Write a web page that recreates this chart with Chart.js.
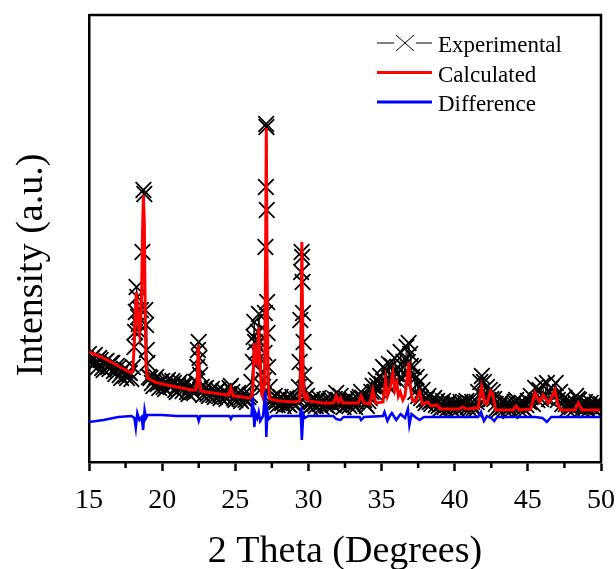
<!DOCTYPE html>
<html>
<head>
<meta charset="utf-8">
<script src="https://cdn.jsdelivr.net/npm/chart.js@4.4.1/dist/chart.umd.min.js"></script>
<style>
  body { margin: 0; background: #fff; }
  #wrap { width: 616px; height: 569px; }
</style>
</head>
<body>
<div id="wrap"><canvas id="xrdChart" width="616" height="569"></canvas></div>
<script>
// XRD refinement: observed / calculated / difference, [2theta, intensity]
const expData = [
  [15.0,108],[15.1,99],[15.2,104],[15.3,97],[15.4,107],[15.5,101],[15.6,95],[15.7,104],[15.8,102],[15.9,94],
  [16.0,92],[16.1,100],[16.2,101],[16.3,95],[16.4,93],[16.5,99],[16.6,99],[16.7,91],[16.8,88],[16.9,96],
  [17.0,94],[17.1,87],[17.2,84],[17.3,91],[17.4,93],[17.5,86],[17.6,84],[17.7,90],[17.8,89],[17.9,83],
  [18.0,95],[18.1,115],[18.15,130],[18.2,150],[18.25,175],[18.3,165],[18.35,145],[18.4,138],[18.45,130],
  [18.55,152],[18.65,210],[18.72,272],[18.78,268],[18.85,152],[18.9,137],[18.95,112],[19.0,99],[19.1,85],
  [19.2,84],[19.3,79],[19.4,76],[19.5,83],[19.6,85],[19.7,78],[19.8,74],[19.9,80],[20.0,81],[20.1,75],
  [20.2,73],[20.3,80],[20.4,82],[20.5,76],[20.6,75],[20.7,81],[20.8,79],[20.9,72],[21.0,70],[21.1,77],
  [21.2,80],[21.3,74],[21.4,71],[21.5,78],[21.6,77],[21.7,70],[21.8,68],[21.9,75],[22.0,76],[22.1,70],
  [22.2,69],
  [22.3,80],[22.4,95],[22.45,112],[22.5,120],[22.55,104],[22.6,87],[22.7,75],
  [22.8,67],[22.9,73],[23.0,74],[23.1,68],[23.2,66],[23.3,71],[23.4,73],[23.5,67],[23.6,65],[23.7,70],
  [23.8,72],[23.9,66],[24.0,64],[24.1,69],[24.2,71],[24.3,65],[24.4,63],[24.5,68],[24.6,74],[24.7,76],
  [24.8,70],[24.9,64],[25.0,62],[25.1,67],[25.2,69],[25.3,63],[25.4,61],[25.5,66],[25.6,68],[25.7,62],
  [25.8,60],[25.9,65],[26.0,67],
  [26.1,80],[26.2,100],[26.25,125],[26.3,140],[26.35,120],[26.45,110],[26.55,130],[26.62,148],[26.7,120],
  [26.8,90],[26.9,75],[26.95,82],[27.0,109],[27.03,149],[27.06,215],[27.09,275],[27.11,338],[27.13,335],
  [27.15,252],[27.18,160],[27.21,129],[27.25,95],[27.35,75],
  [27.45,63],[27.5,58],[27.6,63],[27.7,66],[27.8,60],[27.9,57],[28.0,62],[28.1,65],[28.2,59],[28.3,56],
  [28.4,61],[28.5,64],[28.6,58],[28.7,57],[28.8,62],[28.9,65],[29.0,59],[29.1,56],[29.2,61],[29.25,63],
  [29.35,75],[29.4,100],[29.45,142],[29.5,190],[29.53,210],[29.57,205],[29.6,180],[29.63,149],[29.67,120],
  [29.7,87],[29.8,72],
  [29.9,66],[30.0,60],[30.1,55],[30.2,60],[30.3,63],[30.4,58],[30.5,56],[30.6,61],[30.7,64],[30.8,58],
  [30.9,55],[31.0,60],[31.1,62],[31.2,57],[31.3,56],[31.4,61],[31.5,63],[31.6,58],[31.7,57],[31.8,63],
  [31.9,69],[32.0,62],[32.05,58],[32.1,61],[32.2,66],[32.3,60],[32.4,55],[32.5,60],[32.6,63],[32.7,58],
  [32.8,56],[32.9,61],[33.0,62],[33.1,57],[33.2,55],[33.3,60],[33.4,63],[33.5,65],[33.6,70],[33.7,64],
  [33.8,62],[33.9,58],[34.0,56],[34.1,61],[34.2,64],[34.3,70],
  [34.4,76],[34.5,70],[34.6,82],[34.7,76],[34.8,72],[34.9,86],[35.0,78],[35.1,95],[35.2,80],[35.3,92],
  [35.4,76],[35.5,98],[35.6,82],[35.7,96],[35.8,84],[35.9,104],[36.0,88],[36.1,95],[36.2,80],[36.3,110],
  [36.4,84],[36.5,100],[36.6,88],[36.7,115],[36.8,100],[36.85,119],[36.95,108],[37.0,96],[37.1,85],
  [37.2,95],[37.3,70],[37.4,85],[37.5,66],[37.6,80],[37.7,64],[37.8,72],
  [37.9,62],[38.0,59],[38.1,63],[38.2,66],[38.3,60],[38.4,58],[38.5,62],[38.6,64],[38.7,57],[38.8,61],
  [38.9,56],[39.0,53],[39.1,58],[39.2,61],[39.3,55],[39.4,52],[39.5,57],[39.6,60],[39.7,55],[39.8,53],
  [39.9,58],[40.0,59],[40.1,54],[40.2,52],[40.3,57],[40.4,60],[40.5,58],[40.6,55],[40.7,59],[40.8,61],
  [40.9,55],[41.0,53],[41.1,58],[41.2,60],[41.3,54],[41.4,52],[41.5,60],
  [41.6,70],[41.75,80],[41.85,86],[42.0,80],[42.1,64],[42.2,75],[42.3,62],[42.4,72],[42.5,63],[42.6,70],
  [42.7,63],[42.8,58],[42.9,54],[43.0,52],[43.1,57],[43.2,60],[43.3,55],[43.4,53],[43.5,58],[43.6,59],
  [43.7,54],[43.8,51],[43.9,56],[44.0,58],[44.1,60],[44.2,62],[44.3,57],[44.4,53],[44.5,57],[44.6,59],
  [44.7,54],[44.8,52],[44.9,57],[45.0,61],[45.1,60],
  [45.2,66],[45.35,58],[45.5,74],[45.65,62],[45.8,72],[45.9,63],[46.0,77],[46.15,65],[46.3,79],[46.45,63],
  [46.6,74],[46.75,65],[46.9,79],[47.05,62],[47.2,70],[47.35,58],[47.5,64],
  [47.6,58],[47.7,53],[47.8,57],[47.9,60],[48.0,55],[48.1,52],[48.2,60],[48.3,66],[48.4,63],[48.5,62],
  [48.6,57],[48.7,53],[48.8,57],[48.9,60],[49.0,55],[49.1,52],[49.2,56],[49.3,59],[49.4,55],[49.5,53],
  [49.6,57],[49.7,60],[49.8,55],[49.9,53],[50.0,58]
];

const calcData = [
  [15.0,110],[15.5,107],[16.0,104],[16.5,100],[17.0,96],[17.5,92],[17.9,89],[18.0,92],[18.1,120],
  [18.2,160],[18.25,170],[18.3,155],[18.38,135],[18.45,128],[18.52,140],[18.6,170],[18.66,230],[18.72,267],
  [18.78,240],[18.84,150],[18.9,95],[19.0,84],[19.5,80],[20.0,78],[21.0,75],[22.0,72],[22.3,72],[22.4,80],
  [22.47,117],[22.55,82],[22.65,71],[23.0,70],[24.0,68],[24.55,67],[24.7,74],[24.85,66],[25.0,66],
  [26.0,64],[26.1,64],[26.2,72],[26.3,119],[26.4,100],[26.5,98],[26.6,135],[26.7,95],[26.8,68],[26.9,64],
  [27.0,80],[27.07,200],[27.12,334],[27.17,200],[27.24,80],[27.35,63],[28.0,61],[29.0,60],[29.4,61],
  [29.48,90],[29.55,220],[29.62,90],[29.7,66],[29.8,64],[29.9,67],[30.0,61],[31.0,59],[31.7,59],[31.9,66],
  [32.05,60],[32.2,64],[32.35,59],[33.4,59],[33.6,66],[33.8,59],[34.2,58],[34.4,72],[34.6,59],[35.1,60],
  [35.27,82],[35.4,66],[35.55,72],[35.77,89],[35.9,72],[36.05,79],[36.15,66],[36.28,70],[36.45,62],
  [36.6,66],[36.75,85],[36.87,100],[36.97,75],[37.1,62],[37.3,60],[37.6,70],[37.8,58],[38.15,60],
  [38.4,56],[38.8,57],[39.0,53],[40.3,53],[40.55,55],[40.8,53],[41.6,54],[41.83,75],[42.05,59],[42.2,58],
  [42.45,71],[42.6,68],[42.8,52],[44.0,52],[44.2,56],[44.4,52],[45.2,53],[45.48,69],[45.8,60],[46.05,67],
  [46.4,59],[46.55,62],[46.85,72],[47.1,55],[47.3,52],[48.2,52],[48.45,59],[48.7,52],[50.0,52]
];

const diffData = [
  [15.0,40],[16.0,42],[17.0,45],[17.9,46],[18.1,44],[18.2,34],[18.3,49],[18.45,42],[18.6,45],[18.7,32],
  [18.8,52],[18.9,44],[19.0,47],[20.0,47],[21.0,46],[22.0,46],[22.4,46],[22.5,41],[22.6,46],[24.6,46],
  [24.7,43],[24.8,46],[26.1,46],[26.2,65],[26.3,35],[26.4,48],[26.5,44],[26.6,50],[26.7,41],[26.9,46],
  [27.05,71],[27.12,25],[27.2,50],[27.3,43],[27.5,46],[29.4,46],[29.47,50],[29.55,22],[29.65,48],
  [29.75,44],[30.0,46],[31.7,46],[31.9,43],[32.2,42],[32.4,45],[33.5,45],[33.6,42],[33.8,45],[35.1,46],
  [35.2,50],[35.4,41],[35.6,47],[35.7,49],[36.0,42],[36.3,48],[36.6,44],[36.8,53],[36.9,37],[37.05,48],
  [37.3,45],[37.6,42],[37.9,45],[41.6,45],[41.8,50],[42.0,41],[42.2,46],[42.5,44],[42.7,41],[42.9,45],
  [45.5,45],[46.0,44],[46.3,40],[46.6,45],[50.0,45]
];

const seriesNames = ["Experimental", "Calculated", "Difference"];
const minorTicks = [17.5, 22.5, 27.5, 32.5, 37.5, 42.5, 47.5];

const serif = '"Liberation Serif", "Times New Roman", serif';
const toXY = arr => arr.map(p => ({ x: p[0], y: p[1] }));

// box, minor ticks, y title and legend
const decor = {
  id: 'decor',
  afterDraw(chart) {
    const c = chart.ctx, a = chart.chartArea, xs = chart.scales.x;
    c.save();
    c.strokeStyle = '#000';
    c.lineWidth = 2.5;
    c.beginPath();
    c.moveTo(a.left, a.top); c.lineTo(a.right, a.top); c.lineTo(a.right, a.bottom);
    c.stroke();
    minorTicks.forEach(v => {
      const px = xs.getPixelForValue(v);
      c.beginPath(); c.moveTo(px, a.bottom); c.lineTo(px, a.bottom + 6); c.stroke();
    });

    c.fillStyle = '#000';
    c.font = '38px ' + serif;
    c.textAlign = 'center';
    c.textBaseline = 'middle';
    c.translate(32, 265);
    c.rotate(-Math.PI / 2);
    c.fillText('Intensity (a.u.)', 0, 0);
    c.restore();

    // legend
    c.save();
    c.font = '23px ' + serif;
    c.textBaseline = 'alphabetic';
    c.fillStyle = '#000';
    chart.data.datasets.forEach((ds, i) => {
      const y = 43 + i * 29.5;
      c.strokeStyle = ds.borderColor;
      if (i === 0) {
        c.lineWidth = 1;
        c.beginPath();
        c.moveTo(377, y); c.lineTo(394, y);
        c.moveTo(416, y); c.lineTo(432, y);
        c.moveTo(396, y - 8); c.lineTo(414, y + 8);
        c.moveTo(414, y - 8); c.lineTo(396, y + 8);
        c.stroke();
      } else {
        c.lineWidth = 3;
        c.beginPath(); c.moveTo(377, y); c.lineTo(432, y); c.stroke();
      }
      c.fillText(ds.label, 438, y + 9);
    });
    c.restore();
  }
};

new Chart(document.getElementById('xrdChart').getContext('2d'), {
  type: 'line',
  data: {
    datasets: [{
      label: seriesNames[0],
      data: toXY(expData),
      borderColor: '#000',
      borderWidth: 1,
      pointStyle: 'crossRot',
      pointRadius: 11,
      pointBorderWidth: 1.8,
      pointBorderColor: '#000',
      pointBackgroundColor: '#000',
      order: 3
    }, {
      label: seriesNames[1],
      data: toXY(calcData),
      borderColor: '#ff0000',
      borderWidth: 3,
      pointRadius: 0,
      order: 2
    }, {
      label: seriesNames[2],
      data: toXY(diffData),
      borderColor: '#0000ff',
      borderWidth: 2.5,
      pointRadius: 0,
      order: 1
    }]
  },
  options: {
    responsive: false,
    animation: false,
    layout: { padding: { left: 0, right: 15, top: 15, bottom: 0 } },
    plugins: { legend: { display: false }, tooltip: { enabled: false } },
    scales: {
      x: {
        type: 'linear',
        min: 15, max: 50,
        afterFit: s => { s.height = 107; s.paddingLeft = 0; s.paddingRight = 0; },
        border: { display: true, color: '#000', width: 2.5 },
        grid: { drawOnChartArea: false, drawTicks: true, tickLength: 9, tickWidth: 2.5, tickColor: '#000' },
        ticks: { stepSize: 5, color: '#000', padding: 13, maxRotation: 0, font: { family: serif, size: 28 } },
        title: { display: true, text: '2 Theta (Degrees)', color: '#000', padding: { top: 0, bottom: 0 },
                 font: { family: serif, size: 38, lineHeight: 0.9 } }
      },
      y: {
        min: 0, max: 447,
        afterFit: s => { s.width = 89; },
        border: { display: true, color: '#000', width: 2.5 },
        grid: { display: false },
        ticks: { display: false }
      }
    }
  },
  plugins: [decor]
});
</script>
</body>
</html>
